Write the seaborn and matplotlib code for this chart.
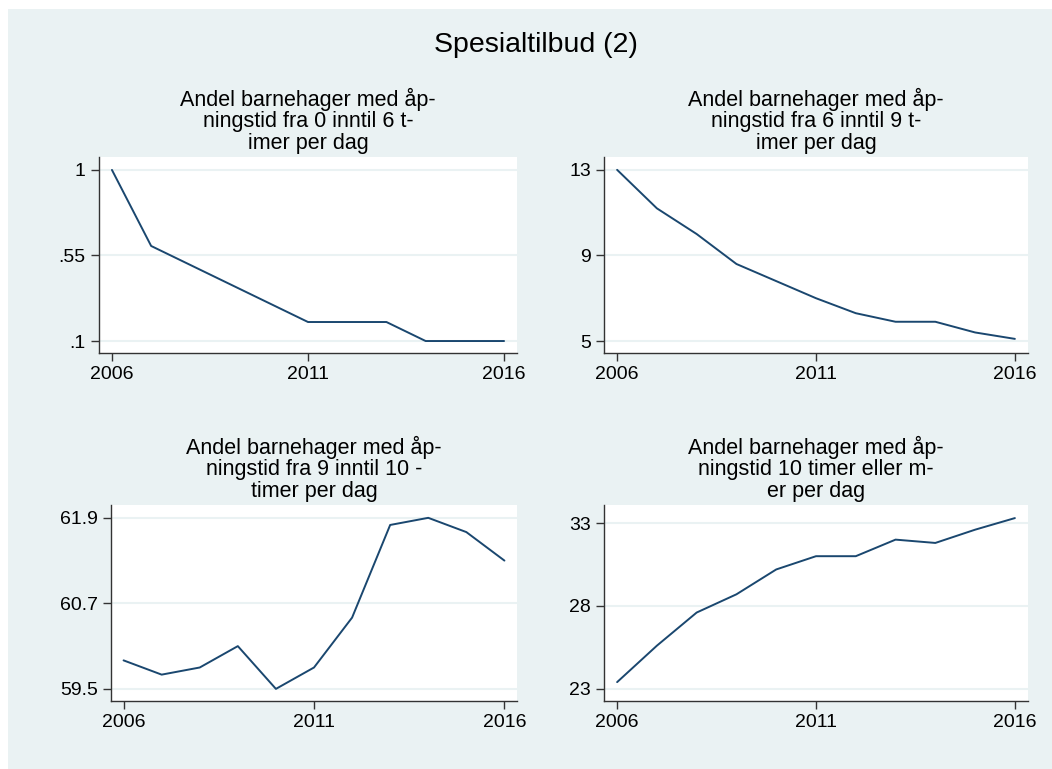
import pandas as pd
import seaborn as sns
import matplotlib.pyplot as plt
from matplotlib.patches import Rectangle

years = list(range(2006, 2017))

# Andel barnehager etter åpningstid (prosent)
under_6 = [1.0, 0.6, 0.5, 0.4, 0.3, 0.2, 0.2, 0.2, 0.1, 0.1, 0.1]
fra_6_til_9 = [13.0, 11.2, 10.0, 8.6, 7.8, 7.0, 6.3, 5.9, 5.9, 5.4, 5.1]
fra_9_til_10 = [59.9, 59.7, 59.8, 60.1, 59.5, 59.8, 60.5, 61.8, 61.9, 61.7, 61.3]
over_10 = [23.4, 25.6, 27.6, 28.7, 30.2, 31.0, 31.0, 32.0, 31.8, 32.6, 33.3]

titles = ["Andel barnehager med åp-\nningstid fra 0 inntil 6 t-\nimer per dag",
          "Andel barnehager med åp-\nningstid fra 6 inntil 9 t-\nimer per dag",
          "Andel barnehager med åp-\nningstid fra 9 inntil 10 -\ntimer per dag",
          "Andel barnehager med åp-\nningstid 10 timer eller m-\ner per dag"]
yticks = [[0.1, 0.55, 1], [5, 9, 13], [59.5, 60.7, 61.9], [23, 28, 33]]
ytick_labels = [[".1", ".55", "1"], ["5", "9", "13"],
                ["59.5", "60.7", "61.9"], ["23", "28", "33"]]
xticks = [2006, 2011, 2016]


def main():
    sns.set_style('white')
    plt.rcParams['font.family'] = ['Liberation Sans', 'DejaVu Sans']

    bg = '#eaf2f3'
    line_color = '#1a476f'
    W, H = 1052, 769

    fig = plt.figure(figsize=(W / 100, H / 100), dpi=100, facecolor='white')
    fig.patches.append(Rectangle((8 / W, 0), 1 - 8 / W, 1 - 9 / H,
                                 transform=fig.transFigure, facecolor=bg,
                                 edgecolor='none', zorder=-10))

    fig.text(536 / W, 1 - 45 / H, 'Spesialtilbud (2)', ha='center', va='center',
             fontsize=20.5, color='black')

    # pixel boxes: left, top, right, bottom
    boxes = [(99, 157, 517, 353), (604, 157, 1028, 353),
             (111, 505, 517, 701), (604, 505, 1028, 701)]
    ylims = [(0.037, 1.068), (4.44, 13.6), (59.33, 62.08), (22.26, 34.09)]
    series = [under_6, fra_6_til_9, fra_9_til_10, over_10]

    for i in range(4):
        l, t, r, b = boxes[i]
        ax = fig.add_axes([l / W, 1 - b / H, (r - l) / W, (b - t) / H])
        ax.set_facecolor('white')
        df = pd.DataFrame({'year': years, 'value': series[i]})
        sns.lineplot(x='year', y='value', data=df, ax=ax, color=line_color,
                     linewidth=1.4)
        ax.set_xlim(2005.67, 2016.33)
        ax.set_ylim(*ylims[i])
        ax.set_xticks(xticks)
        ax.set_xticklabels([str(x) for x in xticks])
        ax.set_yticks(yticks[i])
        ax.set_yticklabels(ytick_labels[i])
        for y in yticks[i]:
            ax.axhline(y, color=bg, linewidth=1.5, zorder=0)
        ax.set_xlabel('')
        ax.set_ylabel('')
        for side in ['top', 'right']:
            ax.spines[side].set_visible(False)
        for side in ['left', 'bottom']:
            ax.spines[side].set_color('#333333')
            ax.spines[side].set_linewidth(1.0)
        ax.tick_params(axis='both', direction='out', length=6, width=1,
                       color='#333333', labelsize=14, labelcolor='black',
                       bottom=True, left=True)
        ax.set_title(titles[i], fontsize=15.5, pad=6, linespacing=1.02,
                     color='black')

    plt.savefig('out.png', dpi=100, facecolor='white')


if __name__ == "__main__":
    main()
